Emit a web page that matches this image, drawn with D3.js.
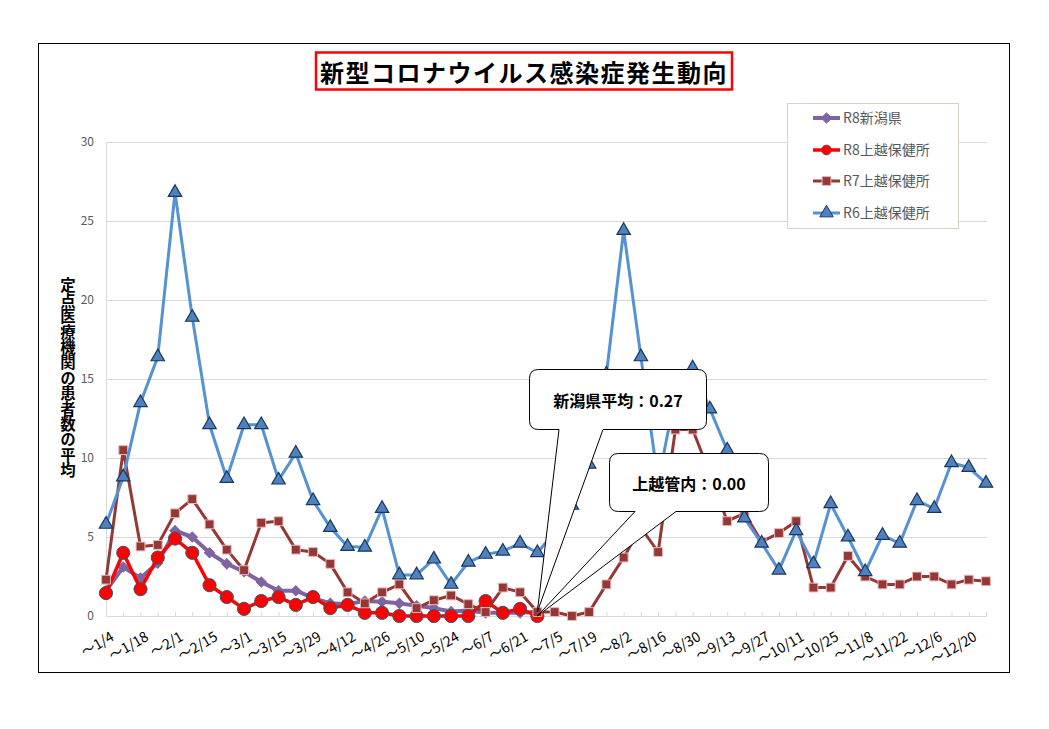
<!DOCTYPE html>
<html lang="ja">
<head>
<meta charset="utf-8">
<title>新型コロナウイルス感染症発生動向</title>
<script src="https://cdn.jsdelivr.net/npm/d3@7"></script>
<style>
  body { margin: 0; background: #fff; }
  svg { display: block; font-family: "Noto Sans CJK JP", "Noto Sans", sans-serif; }
</style>
</head>
<body>
<div id="chart"></div>
<script>
// week labels (week ending), every other one is shown on the axis
const weeks = ['1/4', '1/11', '1/18', '1/25', '2/1', '2/8', '2/15', '2/22', '3/1', '3/8', '3/15', '3/22',
    '3/29', '4/5', '4/12', '4/19', '4/26', '5/3', '5/10', '5/17', '5/24', '5/31', '6/7', '6/14', '6/21', '6/28',
    '7/5', '7/12', '7/19', '7/26', '8/2', '8/9', '8/16', '8/23', '8/30', '9/6', '9/13', '9/20', '9/27', '10/4',
    '10/11', '10/18', '10/25', '11/1', '11/8', '11/15', '11/22', '11/29', '12/6', '12/13', '12/20', '12/27'];

const r8Niigata = [1.6, 3.1, 2.4, 3.35, 5.4, 5.0, 4.0, 3.3, 2.8, 2.15, 1.6, 1.6, 1.15, 0.8, 0.75, 0.95,
    0.9, 0.8, 0.65, 0.5, 0.28, 0.35, 0.2, 0.2, 0.2, 0.27];
const r8Joetsu = [1.45, 4.0, 1.7, 3.7, 4.9, 4.0, 1.95, 1.2, 0.45, 0.95, 1.2, 0.7, 1.2, 0.5, 0.7, 0.2,
    0.2, 0, 0, 0, 0, 0, 0.95, 0.2, 0.45, 0];
const r7Joetsu = [2.3, 10.5, 4.4, 4.5, 6.5, 7.4, 5.8, 4.2, 2.9, 5.9, 6.0, 4.2, 4.05, 3.3, 1.5, 0.8, 1.5,
    2.0, 0.5, 1.0, 1.3, 0.75, 0.25, 1.8, 1.5, 0.25, 0.25, 0.0, 0.25, 2.0, 3.7, 5.6, 4.05, 11.8, 11.8, 9.0,
    6.0, 6.5, 4.7, 5.25, 6.0, 1.8, 1.8, 3.8, 2.5, 2.0, 2.0, 2.5, 2.5, 2.0, 2.3, 2.2];
const r6Joetsu = [5.8, 8.8, 13.5, 16.4, 26.8, 18.9, 12.1, 8.7, 12.1, 12.1, 8.6, 10.3, 7.3, 5.6, 4.4, 4.35,
    6.8, 2.6, 2.6, 3.6, 2.0, 3.4, 3.9, 4.1, 4.6, 4.0, 5.3, 7.0, 9.6, 15.3, 24.4, 16.4, 8.5, 14.0, 15.7, 13.1,
    10.5, 6.2, 4.6, 2.9, 5.4, 3.3, 7.1, 5.0, 2.8, 5.1, 4.6, 7.3, 6.8, 9.7, 9.4, 8.4];

const seriesNames = ['R8新潟県', 'R8上越保健所', 'R7上越保健所', 'R6上越保健所'];
const yTicks = [0, 5, 10, 15, 20, 25, 30];

const chartTitle = '新型コロナウイルス感染症発生動向';
const yTitle = '定点医療機関の患者数の平均';
const calloutTexts = ['新潟県平均：0.27', '上越管内：0.00'];

class LineChart {
    constructor(_config, _series) {
        this.config = {
            parentElement: _config.parentElement,
            containerWidth: _config.containerWidth || 1049,
            containerHeight: _config.containerHeight || 729,
            margin: _config.margin || {top: 142, right: 62, bottom: 113, left: 106},
        };
        this.series = _series;
        this.initVis();
    }

    initVis() {
        let vis = this;

        vis.width = vis.config.containerWidth - vis.config.margin.left - vis.config.margin.right;
        vis.height = vis.config.containerHeight - vis.config.margin.top - vis.config.margin.bottom;

        vis.svg = d3.select(vis.config.parentElement)
            .append('svg')
            .attr('width', vis.config.containerWidth)
            .attr('height', vis.config.containerHeight);

        // outer frame of the sheet area
        vis.svg.append('rect')
            .attr('x', 38.5).attr('y', 43.5)
            .attr('width', 971).attr('height', 629)
            .attr('fill', '#fff')
            .attr('stroke', '#000');

        vis.chart = vis.svg.append('g')
            .attr('transform', `translate(${vis.config.margin.left}, ${vis.config.margin.top})`);

        vis.xScale = d3.scalePoint()
            .domain(weeks)
            .range([0, vis.width - 1])
            .padding(0);

        vis.yScale = d3.scaleLinear()
            .domain([0, 30])
            .range([vis.height, 0]);

        vis.yAxis = d3.axisLeft(vis.yScale)
            .tickValues(yTicks)
            .tickSize(-vis.width)
            .tickSizeOuter(0)
            .tickPadding(12);

        vis.xAxis = d3.axisBottom(vis.xScale)
            .tickSize(-4)
            .tickSizeOuter(0)
            .tickFormat((d, i) => i % 2 === 0 ? '～' + d : '');

        vis.yAxisG = vis.chart.append('g').attr('class', 'axis y-axis');
        vis.xAxisG = vis.chart.append('g')
            .attr('class', 'axis x-axis')
            .attr('transform', `translate(0,${vis.height})`);

        // vertical axis title
        vis.svg.append('text')
            .attr('x', 68)
            .attr('y', 378)
            .attr('text-anchor', 'middle')
            .style('writing-mode', 'vertical-rl')
            .attr('font-size', 15.4)
            .attr('font-weight', 'bold')
            .attr('fill', '#000')
            .text(yTitle);

        vis.line = d3.line()
            .x((d, i) => vis.xScale(weeks[i]))
            .y(d => vis.yScale(d));

        vis.renderVis();
    }

    markerPath(s) {
        if (s.shape === 'diamond') return d3.symbol(d3.symbolSquare, 52)();
        if (s.shape === 'circle') return d3.symbol(d3.symbolCircle, 136)();
        if (s.shape === 'square') return d3.symbol(d3.symbolSquare, 78)();
        return d3.symbol(d3.symbolTriangle, 78)();
    }

    renderVis() {
        let vis = this;

        vis.yAxisG.call(vis.yAxis);
        vis.yAxisG.selectAll('.tick line').attr('stroke', '#d9d9d9');
        vis.yAxisG.select('.domain').attr('stroke', '#d9d9d9');
        vis.yAxisG.selectAll('.tick text')
            .attr('fill', '#595959')
            .attr('font-size', 12)
            .attr('font-family', '"Noto Sans CJK JP", sans-serif');

        vis.xAxisG.call(vis.xAxis);
        vis.xAxisG.selectAll('.tick line').attr('stroke', '#d9d9d9');
        vis.xAxisG.select('.domain').attr('stroke', '#d9d9d9');
        vis.xAxisG.selectAll('.tick text')
            .attr('y', 0)
            .attr('dy', '0.8em')
            .attr('text-anchor', 'end')
            .attr('transform', 'translate(3,14) rotate(-30)')
            .attr('fill', '#000')
            .attr('font-size', 14)
            .attr('font-family', '"Noto Sans CJK JP", sans-serif');

        // series drawn bottom to top
        const drawOrder = ['R8新潟県', 'R8上越保健所', 'R7上越保健所', 'R6上越保健所'];
        drawOrder.forEach(name => {
            const s = vis.series.find(d => d.name === name);
            const g = vis.chart.append('g').attr('class', 'series');
            g.append('path')
                .datum(s.values)
                .attr('fill', 'none')
                .attr('stroke', s.color)
                .attr('stroke-width', s.width)
                .attr('stroke-linejoin', 'round')
                .attr('d', vis.line);
            g.selectAll('.marker')
                .data(s.values)
                .join('path')
                .attr('class', 'marker')
                .attr('d', vis.markerPath(s))
                .attr('transform', (d, i) => `translate(${vis.xScale(weeks[i])},${vis.yScale(d)})` +
                    (s.shape === 'diamond' ? ' rotate(45)' : ''))
                .attr('fill', s.fill)
                .attr('stroke', s.stroke)
                .attr('stroke-width', s.shape === 'triangle' ? 1.2 : 1);
        });

        // legend
        const legend = vis.svg.append('g').attr('class', 'legend');
        legend.append('rect')
            .attr('x', 787.5).attr('y', 103.5)
            .attr('width', 171).attr('height', 125)
            .attr('fill', '#fff')
            .attr('stroke', '#d8d3c0');
        const legendY = [118, 150, 181, 213];
        vis.series.forEach((s, i) => {
            const item = legend.append('g').attr('transform', `translate(813,${legendY[i]})`);
            item.append('line')
                .attr('x1', 0).attr('x2', 27)
                .attr('stroke', s.color)
                .attr('stroke-width', s.width);
            item.append('path')
                .attr('d', vis.markerPath(s))
                .attr('transform', `translate(13.5,0)` + (s.shape === 'diamond' ? ' rotate(45)' : '') +
                    (s.shape === 'circle' ? ' scale(0.75)' : ''))
                .attr('fill', s.fill)
                .attr('stroke', s.stroke);
            item.append('text')
                .attr('x', 30)
                .attr('y', 0)
                .attr('dy', '0.36em')
                .attr('font-size', 14)
                .attr('fill', '#595959')
                .text(s.name);
        });

        // callouts pointing at the last R8 week
        const lastWeek = weeks[r8Joetsu.length - 1];
        const tipX = vis.config.margin.left + vis.xScale(lastWeek);
        const callouts = [
            {box: [529.5, 369.5, 706.5, 429.5], base: [559, 603],
             tip: [tipX, vis.config.margin.top + vis.yScale(r8Niigata[r8Niigata.length - 1])],
             text: calloutTexts[0]},
            {box: [609.5, 453.5, 768.5, 511.5], base: [635, 676],
             tip: [tipX, vis.config.margin.top + vis.yScale(r8Joetsu[r8Joetsu.length - 1])],
             text: calloutTexts[1]},
        ];
        callouts.forEach(c => {
            const [x0, y0, x1, y1] = c.box;
            const r = 9;
            const p = `M${x0 + r},${y0} H${x1 - r} Q${x1},${y0} ${x1},${y0 + r} V${y1 - r} ` +
                `Q${x1},${y1} ${x1 - r},${y1} H${c.base[1]} L${c.tip[0]},${c.tip[1]} L${c.base[0]},${y1} ` +
                `H${x0 + r} Q${x0},${y1} ${x0},${y1 - r} V${y0 + r} Q${x0},${y0} ${x0 + r},${y0} Z`;
            vis.svg.append('path')
                .attr('d', p)
                .attr('fill', '#fff')
                .attr('stroke', '#000')
                .attr('stroke-width', 1);
            vis.svg.append('text')
                .attr('x', (x0 + x1) / 2)
                .attr('y', (y0 + y1) / 2)
                .attr('dominant-baseline', 'central')
                .attr('text-anchor', 'middle')
                .attr('font-size', 16)
                .attr('font-weight', 'bold')
                .attr('fill', '#000')
                .text(c.text);
        });

        // title with red frame
        vis.svg.append('rect')
            .attr('x', 316).attr('y', 52.5)
            .attr('width', 416).attr('height', 37)
            .attr('fill', '#fff')
            .attr('stroke', '#ff0000')
            .attr('stroke-width', 2.5);
        vis.svg.append('text')
            .attr('x', 524)
            .attr('y', 71)
            .attr('dominant-baseline', 'central')
            .attr('text-anchor', 'middle')
            .attr('font-size', 24)
            .attr('letter-spacing', 1.5)
            .attr('font-weight', 'bold')
            .attr('fill', '#000')
            .text(chartTitle);
    }
}

const series = [
    {name: seriesNames[0], values: r8Niigata, color: '#8064a2', width: 4, shape: 'diamond', fill: '#8064a2', stroke: '#8064a2'},
    {name: seriesNames[1], values: r8Joetsu, color: '#ff0000', width: 3.5, shape: 'circle', fill: '#ff0000', stroke: '#2e5c6e'},
    {name: seriesNames[2], values: r7Joetsu, color: '#953735', width: 3, shape: 'square', fill: '#953735', stroke: '#e6b9b8'},
    {name: seriesNames[3], values: r6Joetsu, color: '#5591d5', width: 3, shape: 'triangle', fill: '#4f81bd', stroke: '#17375e'},
];

new LineChart({parentElement: '#chart'}, series);
</script>
</body>
</html>
